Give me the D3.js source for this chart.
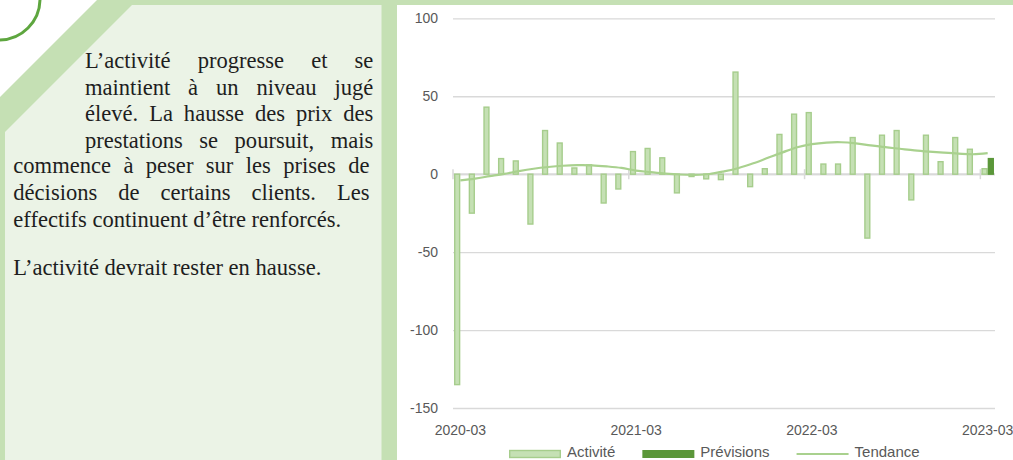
<!DOCTYPE html>
<html>
<head>
<meta charset="utf-8">
<script src="https://cdn.jsdelivr.net/npm/d3@7"></script>
<style>
  body { margin: 0; background: #fff; }
  svg { display: block; }
</style>
</head>
<body>
<svg id="vis" width="1013" height="460"></svg>
<script>
// monthly categories, March 2020 -> March 2023
var months = [
  "2020-03","2020-04","2020-05","2020-06","2020-07","2020-08","2020-09","2020-10","2020-11","2020-12",
  "2021-01","2021-02","2021-03","2021-04","2021-05","2021-06","2021-07","2021-08","2021-09","2021-10",
  "2021-11","2021-12","2022-01","2022-02","2022-03","2022-04","2022-05","2022-06","2022-07","2022-08",
  "2022-09","2022-10","2022-11","2022-12","2023-01","2023-02","2023-03"
];
var tickLabels = ["2020-03", "2021-03", "2022-03", "2023-03"];
var yTicks = [100, 50, 0, -50, -100, -150];

var activite = [
  -135, -25, 43, 10, 8.5, -32, 28, 20, 4, 6,
  -18.5, -9.5, 14.5, 16.5, 10.5, -12, -1.5, -3, -3.5, 65.5,
  -8, 3.5, 25.5, 38.5, 39.5, 6.5, 6.5, 23.5, -41, 25,
  28, -16.5, 25, 8, 23.5, 16, 3.5
];
var previsions = [
  null, null, null, null, null, null, null, null, null, null,
  null, null, null, null, null, null, null, null, null, null,
  null, null, null, null, null, null, null, null, null, null,
  null, null, null, null, null, null, 10
];
var tendance = [
  -4, -2.8, -1.3, 0.2, 2, 3.5, 4.6, 5.4, 5.8, 5.7,
  5, 4, 2.3, 1.3, 0.4, -0.2, -0.4, 0.1, 1.8, 4,
  7, 10.5, 14, 17.3, 19.3, 20.3, 20.5, 19.8, 18.5, 17.3,
  16.3, 15.3, 14.5, 13.8, 13.2, 12.8, 13.5
];
var seriesNames = ["Activité", "Prévisions", "Tendance"];

// commentary on the left panel
var justified = [
  "L’activité progresse et se",
  "maintient à un niveau jugé",
  "élevé. La hausse des prix des",
  "prestations se poursuit, mais",
  "commence à peser sur les prises de",
  "décisions de certains clients. Les"
];
var lastLine = "effectifs continuent d’être renforcés.";
var outlook = "L’activité devrait rester en hausse.";

var light = "#c5e0b4", pale = "#ebf3e6", barEdge = "#a6cd8c", dark = "#5b973a";

var svg = d3.select("#vis");

// ---- background shapes ----
svg.append("polygon")
  .attr("points", "97,0 1013,0 1013,5 397,5 397,460 0,460 0,97")
  .attr("fill", light);
svg.append("polygon")
  .attr("points", "132,5 381.5,5 381.5,460 5,460 5,132")
  .attr("fill", pale);
svg.append("rect")
  .attr("x", 397).attr("y", 5).attr("width", 616).attr("height", 455)
  .attr("fill", "#fff");
svg.append("circle")
  .attr("cx", -1).attr("cy", -1).attr("r", 41)
  .attr("fill", "none").attr("stroke", "#5ea63f").attr("stroke-width", 3);

// ---- text ----
var txt = svg.append("g")
  .style("font-family", "'Liberation Serif', 'DejaVu Serif', serif")
  .style("fill", "#1e1e1e");

var probe = txt.append("text").style("font-size", "20px").text(lastLine);
var fs = 20 * 328 / probe.node().getComputedTextLength();
probe.remove();
txt.style("font-size", fs + "px");

function justify(line, x0, x1, yb) {
  var words = line.split(" ");
  var nodes = words.map(function(w) {
    return txt.append("text").attr("y", yb).text(w);
  });
  var widths = nodes.map(function(n) { return n.node().getComputedTextLength(); });
  var gap = (x1 - x0 - d3.sum(widths)) / (words.length - 1);
  var cx = x0;
  nodes.forEach(function(n, i) {
    n.attr("x", cx);
    cx += widths[i] + gap;
  });
}

var baselines = [68, 94.5, 121, 147.5, 172.5, 199.5, 226.5];
justified.forEach(function(line, i) {
  if (i < 4) justify(line, 85, 373.3, baselines[i]);
  else justify(line, 13.3, 369.5, baselines[i]);
});
txt.append("text").attr("x", 13.3).attr("y", baselines[6]).text(lastLine);
txt.append("text").attr("x", 13.3).attr("y", 275).text(outlook);

// ---- chart ----
var x = d3.scaleBand().domain(months).range([453, 995])
  .paddingInner(0.14).paddingOuter(0.07);
var x1 = d3.scaleBand().domain(seriesNames.slice(0, 2)).range([0, x.bandwidth()]);
var y = d3.scaleLinear().domain([-150, 100]).range([408, 18.3]);

var chart = svg.append("g")
  .style("font-family", "'Liberation Sans', Arial, sans-serif");

// gridlines + y labels (plain hyphen for negatives, like the original)
var yAxis = chart.append("g")
  .attr("transform", "translate(453,0)")
  .call(d3.axisLeft(y).tickValues(yTicks).tickSize(-542).tickPadding(15)
    .tickFormat(function(d) { return String(d); }));
yAxis.select(".domain").remove();
yAxis.selectAll(".tick line").attr("stroke", "#d9d9d9").attr("stroke-width", 1.3);
yAxis.selectAll(".tick text").attr("fill", "#595959").style("font-size", "14px")
  .style("font-family", "'Liberation Sans', Arial, sans-serif");

// category axis at zero
var y0 = y(0);
var half = (x.step() - x.bandwidth()) / 2;
chart.append("line")
  .attr("x1", 453).attr("x2", 995).attr("y1", y0).attr("y2", y0)
  .attr("stroke", "#d9d9d9").attr("stroke-width", 2);
chart.selectAll(".xtick").data(tickLabels).enter().append("line")
  .attr("class", "xtick")
  .attr("x1", function(d) { return x(d) - half; })
  .attr("x2", function(d) { return x(d) - half; })
  .attr("y1", y0 - 5).attr("y2", y0 + 5)
  .attr("stroke", "#d9d9d9").attr("stroke-width", 1.5);
chart.selectAll(".xlab").data(tickLabels).enter().append("text")
  .attr("class", "xlab")
  .attr("x", function(d) { return x(d) + x.bandwidth() / 2; })
  .attr("y", 435)
  .attr("text-anchor", "middle")
  .attr("fill", "#595959").style("font-size", "14px")
  .text(function(d) { return d; });

// bars
function drawBars(values, name, fill, stroke) {
  var data = values.map(function(v, i) { return { m: months[i], v: v }; })
    .filter(function(d) { return d.v !== null; });
  chart.append("g").selectAll("rect").data(data).enter().append("rect")
    .attr("x", function(d) { return x(d.m) + x1(name) + 0.7; })
    .attr("width", x1.bandwidth() - 1.4)
    .attr("y", function(d) { return Math.min(y(d.v), y0); })
    .attr("height", function(d) { return Math.abs(y(d.v) - y0); })
    .attr("fill", fill)
    .attr("stroke", stroke)
    .attr("stroke-width", 1.4);
}
drawBars(activite, "Activité", light, barEdge);
drawBars(previsions, "Prévisions", dark, dark);

// smoothed trend
var line = d3.line()
  .x(function(d, i) { return x(months[i]) + x.bandwidth() / 2; })
  .y(function(d) { return y(d); })
  .curve(d3.curveCatmullRom.alpha(0.5));
chart.append("path")
  .datum(tendance)
  .attr("d", line)
  .attr("fill", "none")
  .attr("stroke", "#a9d18e")
  .attr("stroke-width", 2.2);

// legend
var lg = chart.append("g").style("font-size", "15px");
var lx = 509;
seriesNames.forEach(function(name, i) {
  if (i === 0) {
    lg.append("rect").attr("x", lx + 0.7).attr("y", 450.5).attr("width", 50.6).attr("height", 7)
      .attr("fill", light).attr("stroke", barEdge).attr("stroke-width", 1.4);
  } else if (i === 1) {
    lg.append("rect").attr("x", lx).attr("y", 450).attr("width", 52).attr("height", 8)
      .attr("fill", dark);
  } else {
    lg.append("line").attr("x1", lx).attr("x2", lx + 52).attr("y1", 454).attr("y2", 454)
      .attr("stroke", "#a9d18e").attr("stroke-width", 2.2);
  }
  var t = lg.append("text").attr("x", lx + 58).attr("y", 457)
    .attr("fill", "#595959").text(name);
  lx += 58 + t.node().getComputedTextLength() + 27;
});
</script>
</body>
</html>
